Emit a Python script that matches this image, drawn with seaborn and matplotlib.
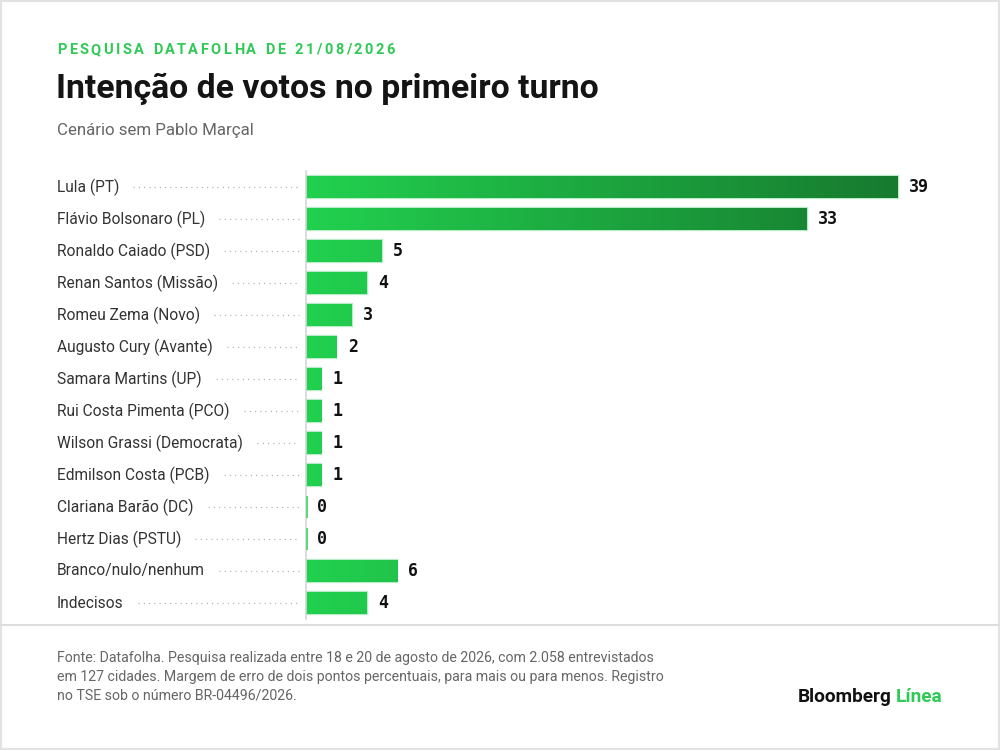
import numpy as np
import pandas as pd
import matplotlib.pyplot as plt
import seaborn as sns
from matplotlib.colors import LinearSegmentedColormap
from matplotlib.lines import Line2D

candidatos = ["Lula (PT)", "Flávio Bolsonaro (PL)", "Ronaldo Caiado (PSD)",
              "Renan Santos (Missão)", "Romeu Zema (Novo)", "Augusto Cury (Avante)",
              "Samara Martins (UP)", "Rui Costa Pimenta (PCO)", "Wilson Grassi (Democrata)",
              "Edmilson Costa (PCB)", "Clariana Barão (DC)", "Hertz Dias (PSTU)",
              "Branco/nulo/nenhum", "Indecisos"]
votos = [39, 33, 5, 4, 3, 2, 1, 1, 1, 1, 0, 0, 6, 4]

kicker = "PESQUISA DATAFOLHA DE 21/08/2026"
titulo = "Intenção de votos no primeiro turno"
subtitulo = "Cenário sem Pablo Marçal"
fonte = ("Fonte: Datafolha. Pesquisa realizada entre 18 e 20 de agosto de 2026, com 2.058 entrevistados\n"
         "em 127 cidades. Margem de erro de dois pontos percentuais, para mais ou para menos. Registro\n"
         "no TSE sob o número BR-04496/2026.")

df = pd.DataFrame({"candidato": candidatos, "votos": votos})

sns.set_style("white")
plt.rcParams["font.family"] = ["Roboto", "DejaVu Sans"]

W, H = 1000, 750
fig = plt.figure(figsize=(10, 7.5), dpi=100)
fig.patch.set_facecolor("white")

def fx(px):
    return px / W

def fy(py):
    return 1 - py / H

verde = "#25c74f"
ax = fig.add_axes([fx(306), fy(619), fx(950) - fx(306), 448 / H])
sns.barplot(data=df, x="votos", y="candidato", color=verde, width=0.69,
            edgecolor="#b5ecc3", linewidth=1.6, ax=ax)

xmax = 644 / (592 / 39)
cmap = LinearSegmentedColormap.from_list("g", ["#22d14f", "#177a2f"])
for p in ax.patches:
    x0, y0, w, h = p.get_x(), p.get_y(), p.get_width(), p.get_height()
    if w <= 0:
        continue
    grad = np.linspace(0, w / max(votos), 256).reshape(1, -1)
    im = ax.imshow(grad, cmap=cmap, vmin=0, vmax=1, aspect="auto",
                   extent=(x0, x0 + w, y0 + h, y0), zorder=p.get_zorder() + 0.1)
    im.set_clip_path(p)

# zero bars: thin sliver
for i, v in enumerate(votos):
    if v == 0:
        ax.barh(i, 0.12, height=0.69, color="#5fd97f", linewidth=0, zorder=3)

ax.set_xlim(0, xmax)
ax.set_ylim(13.5, -0.5)
ax.set_xlabel("")
ax.set_ylabel("")
ax.set_xticks([])
ax.set_yticks([])
for s in ["top", "right", "bottom"]:
    ax.spines[s].set_visible(False)
ax.spines["left"].set_color("#d5d5d5")
ax.spines["left"].set_linewidth(1.2)

for i, v in enumerate(votos):
    ax.text(v + 0.75, i, str(v), va="center", ha="left", fontsize=12,
            fontweight="bold", family="DejaVu Sans Mono", color="#111")

# category labels + dotted leaders
fig.canvas.draw()
r = fig.canvas.get_renderer()
for i, c in enumerate(candidatos):
    yc = 187 + 32 * i
    t = fig.text(fx(57), fy(yc), c, va="center", ha="left", fontsize=11.2, color="#333333")
    bb = t.get_window_extent(r)
    x_start = bb.x1 + 14
    fig.add_artist(Line2D([x_start / W, fx(299)], [fy(yc), fy(yc)], transform=fig.transFigure,
                          color="#b5b5b5", linewidth=0.9, linestyle=(0, (1, 3.2))))

# kicker with letter spacing
x = 57
for ch in kicker:
    t = fig.text(fx(x), fy(50), ch, va="center", ha="left", fontsize=10.5,
                 fontweight="bold", color="#2fc955")
    if ch == " ":
        adv = 4.5
    else:
        adv = t.get_window_extent(r).width
    x += adv + 2.4

fig.text(fx(56), fy(89), titulo, va="center", ha="left", fontsize=24.3,
         fontweight="bold", color="#141414")
fig.text(fx(57), fy(130), subtitulo, va="center", ha="left", fontsize=12.2, color="#666666")

# footer
fig.add_artist(Line2D([0, 1], [fy(625), fy(625)], transform=fig.transFigure,
                      color="#dddddd", linewidth=1.5))
fig.text(fx(57), fy(651), fonte, va="top", ha="left", fontsize=10.2, color="#666666",
         linespacing=1.45)

lin = fig.text(fx(942), fy(697), "Línea", va="center", ha="right", fontsize=13.7,
               fontweight="bold", color="#2fc955")
lb = lin.get_window_extent(r)
fig.text((lb.x0 - 4) / W, fy(697), "Bloomberg", va="center", ha="right", fontsize=13.7,
         fontweight="bold", color="#111111")

# outer frame
fig.add_artist(plt.Rectangle((0, 0), 1, 1, transform=fig.transFigure, fill=False,
                             edgecolor="#e2e2e2", linewidth=3))

fig.savefig("out.png", dpi=100, facecolor="white")
